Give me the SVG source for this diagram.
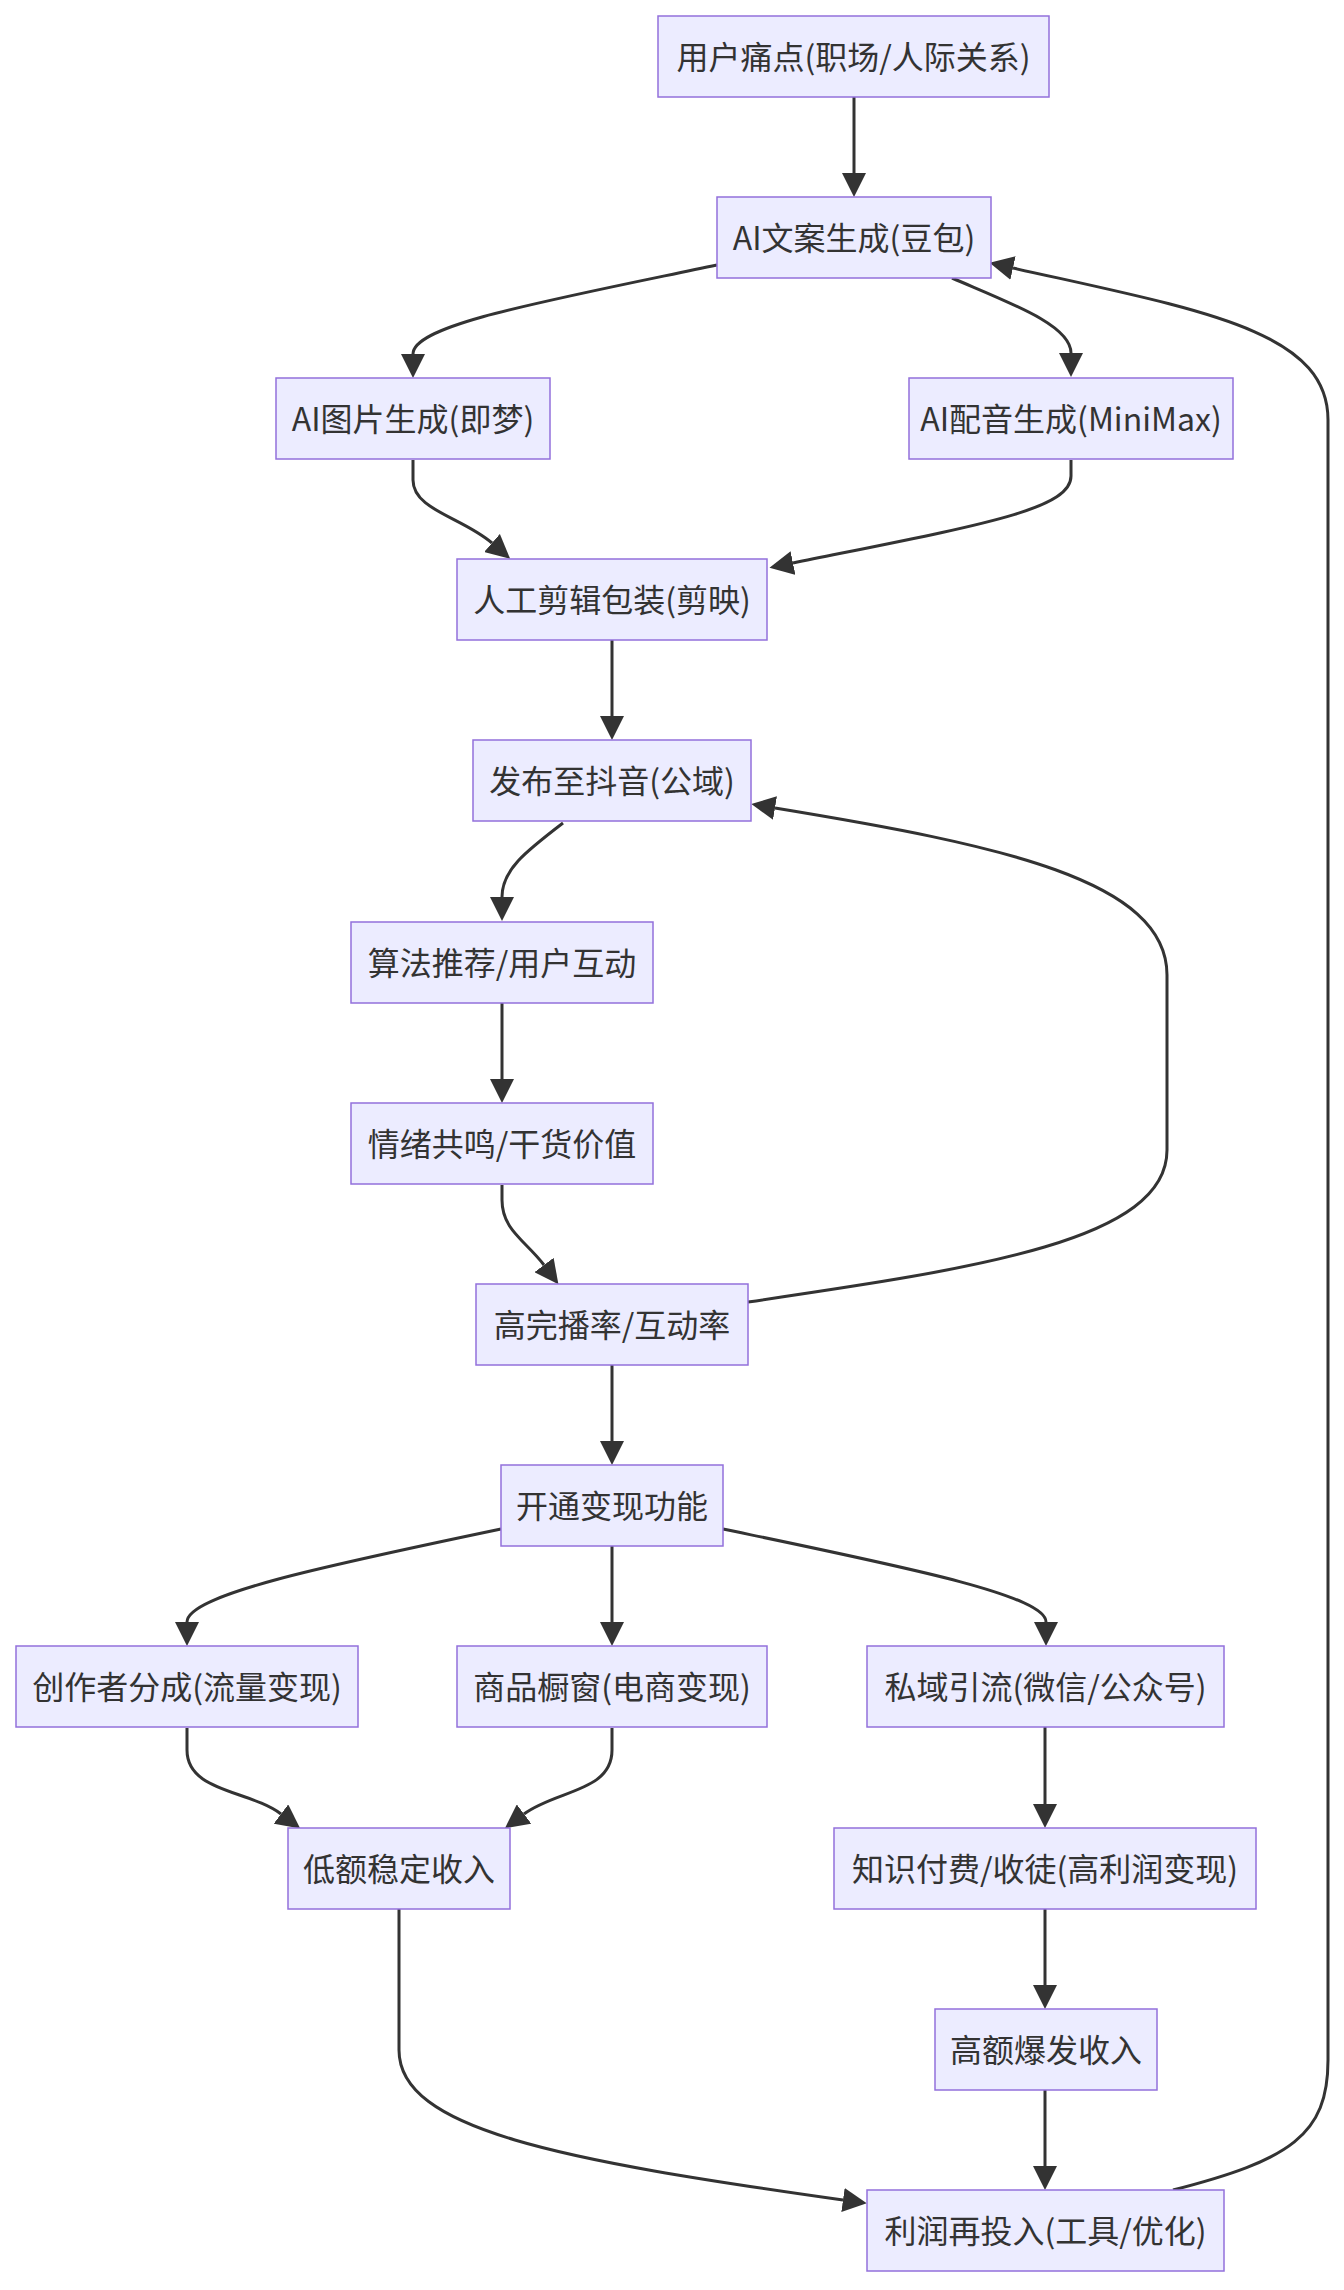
<svg xmlns="http://www.w3.org/2000/svg" width="1344" height="2290" viewBox="0 0 1344 2290">
<style>
.node rect{fill:#ECECFF;stroke:#9370DB;stroke-width:1.5;}
.node text{font-family:"Noto Sans CJK SC","Noto Sans",sans-serif;font-size:32px;fill:#333333;text-anchor:middle;dominant-baseline:central;}
.edges path{fill:none;stroke:#333333;stroke-width:3;marker-end:url(#arrow);}
</style>
<defs>
<marker id="arrow" markerUnits="userSpaceOnUse" markerWidth="24" markerHeight="24" refX="0" refY="12" orient="auto" viewBox="0 0 24 24">
<path d="M0,0 L24,12 L0,24 Z" fill="#333333"/>
</marker>
</defs>
<rect x="0" y="0" width="1344" height="2290" fill="#ffffff"/>
<g class="edges">
<path d="M854,97 L854,173"/>
<path d="M717,265 C540,302 413,325 413,354"/>
<path d="M952,278 C1010,303 1071,325 1071,353"/>
<path d="M413,460 L413,480 C413,510 462,517 492,543"/>
<path d="M1071,460 L1071,476 C1071,510 980,525 793,563"/>
<path d="M612,640 L612,716"/>
<path d="M563,823 C525,852 502,870 502,897"/>
<path d="M502,1003 L502,1079"/>
<path d="M502,1185 L502,1200 C502,1230 526,1241 544,1265"/>
<path d="M748,1302 C980,1268 1167,1240 1167,1150 L1167,975 C1167,880 1000,845 775,808"/>
<path d="M612,1365 L612,1441"/>
<path d="M501,1529 C324,1566 187,1595 187,1622"/>
<path d="M612,1546 L612,1622"/>
<path d="M723,1529 C900,1566 1046,1595 1046,1622"/>
<path d="M187,1728 L187,1750 C187,1792 249,1790 281,1814"/>
<path d="M612,1728 L612,1750 C612,1792 556,1790 524,1814"/>
<path d="M1045,1727 L1045,1804"/>
<path d="M1045,1909 L1045,1985"/>
<path d="M1045,2090 L1045,2166"/>
<path d="M399,1909 L399,2050 C399,2130 560,2160 843,2200"/>
<path d="M1173,2190 C1290,2160 1328,2135 1328,2060 L1328,420 C1328,330 1200,310 1013,268"/>
</g>
<g id="n1" class="node"><rect x="658" y="16" width="391" height="81"/><text x="853.5" y="54.5">用户痛点(职场/人际关系)</text></g>
<g id="n2" class="node"><rect x="717" y="197" width="274" height="81"/><text x="854" y="235.5">AI文案生成(豆包)</text></g>
<g id="n3" class="node"><rect x="276" y="378" width="274" height="81"/><text x="413" y="416.5">AI图片生成(即梦)</text></g>
<g id="n4" class="node"><rect x="909" y="378" width="324" height="81"/><text x="1071" y="416.5">AI配音生成(MiniMax)</text></g>
<g id="n5" class="node"><rect x="457" y="559" width="310" height="81"/><text x="612" y="597.5">人工剪辑包装(剪映)</text></g>
<g id="n6" class="node"><rect x="473" y="740" width="278" height="81"/><text x="612" y="778.5">发布至抖音(公域)</text></g>
<g id="n7" class="node"><rect x="351" y="922" width="302" height="81"/><text x="502" y="960.5">算法推荐/用户互动</text></g>
<g id="n8" class="node"><rect x="351" y="1103" width="302" height="81"/><text x="502" y="1141.5">情绪共鸣/干货价值</text></g>
<g id="n9" class="node"><rect x="476" y="1284" width="272" height="81"/><text x="612" y="1322.5">高完播率/互动率</text></g>
<g id="n10" class="node"><rect x="501" y="1465" width="222" height="81"/><text x="612" y="1503.5">开通变现功能</text></g>
<g id="n11" class="node"><rect x="16" y="1646" width="342" height="81"/><text x="187" y="1684.5">创作者分成(流量变现)</text></g>
<g id="n12" class="node"><rect x="457" y="1646" width="310" height="81"/><text x="612" y="1684.5">商品橱窗(电商变现)</text></g>
<g id="n13" class="node"><rect x="867" y="1646" width="357" height="81"/><text x="1045.5" y="1684.5">私域引流(微信/公众号)</text></g>
<g id="n14" class="node"><rect x="288" y="1828" width="222" height="81"/><text x="399" y="1866.5">低额稳定收入</text></g>
<g id="n15" class="node"><rect x="834" y="1828" width="422" height="81"/><text x="1045" y="1866.5">知识付费/收徒(高利润变现)</text></g>
<g id="n16" class="node"><rect x="935" y="2009" width="222" height="81"/><text x="1046" y="2047.5">高额爆发收入</text></g>
<g id="n17" class="node"><rect x="867" y="2190" width="357" height="81"/><text x="1045.5" y="2228.5">利润再投入(工具/优化)</text></g>
</svg>
